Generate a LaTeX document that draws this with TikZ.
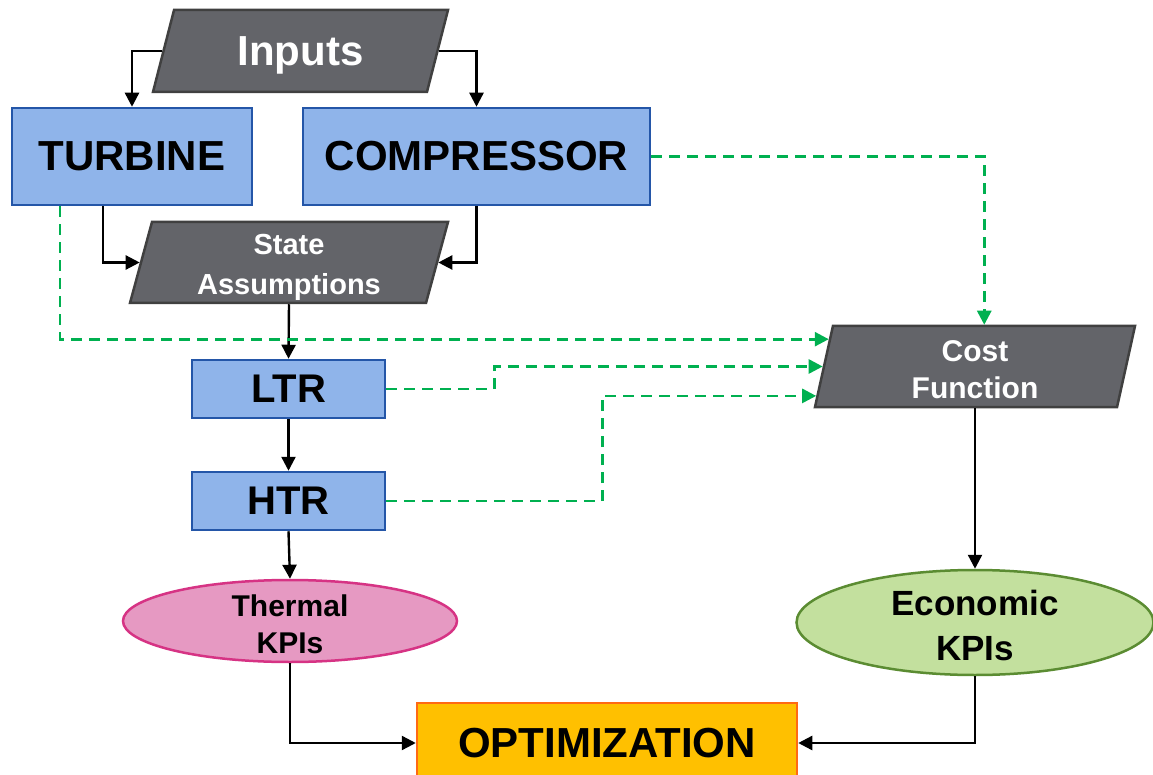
\documentclass[tikz,border=0pt]{standalone}
\usepackage{fontspec}
\setmainfont{Liberation Sans}
\usetikzlibrary{shapes.geometric,arrows.meta,calc}
\definecolor{bluF}{HTML}{8FB4EA}
\definecolor{bluB}{HTML}{2456A8}
\definecolor{grayF}{HTML}{636469}
\definecolor{grayB}{HTML}{404040}
\definecolor{pinkF}{HTML}{E699C2}
\definecolor{pinkB}{HTML}{D63384}
\definecolor{grnF}{HTML}{C3E09E}
\definecolor{grnB}{HTML}{5B8C32}
\definecolor{orF}{HTML}{FFC000}
\definecolor{orB}{HTML}{FF6A13}
\definecolor{dgreen}{HTML}{00B050}
\tikzset{
  bluebox/.style={rectangle, draw=bluB, fill=bluF, line width=2.5pt, inner sep=0pt, font=\bfseries\fontsize{42}{48}\selectfont},
  parbox/.style={trapezium, trapezium stretches body,
     draw=grayB, fill=grayF, line width=2.5pt, inner sep=0pt},
  lbl/.style={inner sep=0pt, align=center, font=\bfseries},
  wlbl/.style={lbl, text=white},
  arr/.style={line width=2.4pt, -{Triangle[length=14pt,width=14pt]}},
  gd/.style={line width=2.7pt, draw=dgreen, dash pattern=on 11pt off 7pt, -{Triangle[length=14pt,width=14pt,fill=dgreen]}},
}
\begin{document}
\begin{tikzpicture}[x=1pt,y=-1pt]
\useasboundingbox (0,0) rectangle (1153,775);
% nodes
\node[parbox, trapezium left angle=75.6, trapezium right angle=104.4, minimum width=295pt, minimum height=82pt,
      label={[wlbl, font=\bfseries\fontsize{42}{48}\selectfont, yshift=-4pt]center:Inputs}] (inp) at (300.5,51) {\rule{0pt}{82pt}};
\node[bluebox, minimum width=240pt, minimum height=97pt] (turb) at (132,156.5) {TURBINE};
\node[bluebox, minimum width=347pt, minimum height=97pt] (comp) at (476.5,156.5) {COMPRESSOR};
\node[parbox, trapezium left angle=74.8, trapezium right angle=105.2, minimum width=318pt, minimum height=81pt,
      label={[wlbl, font=\bfseries\fontsize{29}{40}\selectfont, yshift=-5pt]center:{State\\Assumptions}}] (sa) at (289,262.5) {\rule{0pt}{81pt}};
\node[bluebox, minimum width=193pt, minimum height=58pt, font=\bfseries\fontsize{40}{46}\selectfont] (ltr) at (288.5,389) {LTR};
\node[bluebox, minimum width=193pt, minimum height=58pt, font=\bfseries\fontsize{40}{46}\selectfont] (htr) at (288.5,501) {HTR};
\node[parbox, trapezium left angle=77.5, trapezium right angle=102.5, minimum width=320pt, minimum height=81pt,
      label={[wlbl, font=\bfseries\fontsize{30}{37}\selectfont, yshift=-3pt]center:{Cost\\Function}}] (cf) at (975,366.5) {\rule{0pt}{81pt}};
\node[ellipse, draw=pinkB, fill=pinkF, line width=2.5pt, minimum width=334pt, minimum height=82pt, inner sep=0pt,
      label={[lbl, font=\bfseries\fontsize{30}{37}\selectfont, yshift=-3pt]center:{Thermal\\KPIs}}] (therm) at (290,621) {};
\node[ellipse, draw=grnB, fill=grnF, line width=2.5pt, minimum width=357pt, minimum height=105pt, inner sep=0pt,
      label={[lbl, font=\bfseries\fontsize{35}{45}\selectfont, yshift=-3pt]center:{Economic\\KPIs}}] (econ) at (975,622.5) {};
\node[rectangle, draw=orB, fill=orF, line width=2.5pt, minimum width=380pt, minimum height=80pt, inner sep=0pt,
      font=\bfseries\fontsize{42}{48}\selectfont] (opt) at (607,743) {OPTIMIZATION};
% helper coordinates
\coordinate (cfA) at ($(cf.bottom left corner)!0.827!(cf.top left corner)$);
\coordinate (cfB) at ($(cf.bottom left corner)!0.148!(cf.top left corner)$);
\coordinate (cfT) at ($(cf.top left corner)!0.5!(cf.top right corner)$);
\coordinate (tA) at ([xshift=-29pt]turb.south);
\coordinate (tG) at ([xshift=-72pt]turb.south);
% black connectors
\draw[arr] (inp.west) -| (turb.north);
\draw[arr] (inp.east) -| (comp.north);
\draw[arr] (tA) |- (sa.west);
\draw[arr] (comp.south) |- (sa.east);
\draw[arr] (sa.south) -- (ltr.north);
\draw[arr] (ltr.south) -- (htr.north);
\draw[arr] (htr.south) -- (therm.north);
\draw[arr] (cf.south) -- (econ.north);
\draw[arr] (therm.south) |- (opt.west);
\draw[arr] (econ.south) |- (opt.east);
% green dashed connectors
\draw[gd] (tG) |- (cfA);
\draw[gd] (comp.east) -| (cfT);
\draw[gd] (ltr.east) -- ++(108,0) |- (cf.west);
\draw[gd] (htr.east) -- ++(216,0) |- (cfB);
\end{tikzpicture}
\end{document}
